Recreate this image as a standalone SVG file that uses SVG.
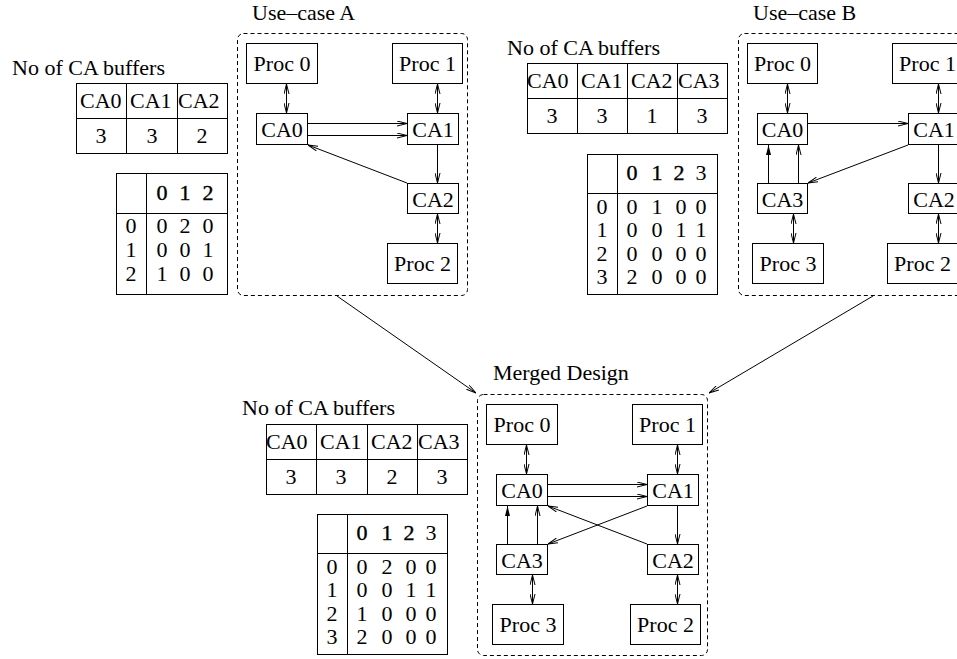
<svg xmlns="http://www.w3.org/2000/svg" width="957" height="659" viewBox="0 0 957 659" font-family="'Liberation Serif', 'DejaVu Serif', serif" font-size="22">
<style>
text{font-family:'Liberation Serif','DejaVu Serif',serif;font-size:22px;fill:#000}
.m{text-anchor:middle}
.hb{stroke:#000;stroke-width:0.4}
.box{fill:#fff;stroke:#000;stroke-width:1}
.tbl{fill:none;stroke:#000;stroke-width:1}
.grp{fill:none;stroke:#000;stroke-width:1;stroke-dasharray:4 3}
.c{fill:none;stroke:#000;stroke-width:1}
.a{marker-end:url(#ah)}
.f{marker-end:url(#ahf)}
.d{marker-start:url(#ah);marker-end:url(#ah)}
</style>
<defs>
<marker id="ah" viewBox="0 0 10 6" refX="10" refY="3" markerWidth="10" markerHeight="6" markerUnits="userSpaceOnUse" orient="auto-start-reverse">
<path d="M0,0.5 L10,3 L0,5.5" fill="none" stroke="#000" stroke-width="1"/>
</marker>
<marker id="ahf" viewBox="0 0 10 6" refX="10" refY="3" markerWidth="10" markerHeight="6" markerUnits="userSpaceOnUse" orient="auto">
<path d="M0,0.5 L10,3 L0,5.5 z" fill="#000"/>
</marker>
</defs>

<!-- Use-case A -->
<g id="usecaseA">
<text x="252" y="20">Use–case A</text>
<rect class="grp" x="237.5" y="33.5" width="230" height="262" rx="6"/>
</g>
<g id="A-proc0"><rect class="box" x="246.5" y="43.5" width="71" height="40"/><text class="m" x="282" y="71">Proc 0</text></g>
<g id="A-proc1"><rect class="box" x="392.5" y="43.5" width="70" height="40"/><text class="m" x="427.5" y="71">Proc 1</text></g>
<g id="A-ca0"><rect class="box" x="256.5" y="113.5" width="51" height="31"/><text class="m" x="282" y="137">CA0</text></g>
<g id="A-ca1"><rect class="box" x="407.5" y="113.5" width="51" height="31"/><text class="m" x="433" y="137">CA1</text></g>
<g id="A-ca2"><rect class="box" x="407.5" y="183.5" width="51" height="30"/><text class="m" x="433" y="206.5">CA2</text></g>
<g id="A-proc2"><rect class="box" x="387.5" y="243.5" width="70" height="40"/><text class="m" x="422.5" y="271">Proc 2</text></g>

<!-- Use-case B -->
<g id="usecaseB">
<text x="753" y="20">Use–case B</text>
<rect class="grp" x="738.5" y="33.5" width="230" height="262" rx="6"/>
</g>
<g id="B-proc0"><rect class="box" x="747.5" y="43.5" width="70" height="40"/><text class="m" x="782.5" y="71">Proc 0</text></g>
<g id="B-proc1"><rect class="box" x="892.5" y="43.5" width="70" height="40"/><text class="m" x="927.5" y="71">Proc 1</text></g>
<g id="B-ca0"><rect class="box" x="757.5" y="113.5" width="50" height="31"/><text class="m" x="782.5" y="137">CA0</text></g>
<g id="B-ca1"><rect class="box" x="908.5" y="113.5" width="51" height="31"/><text class="m" x="934" y="137">CA1</text></g>
<g id="B-ca3"><rect class="box" x="757.5" y="183.5" width="50" height="30"/><text class="m" x="782.5" y="206.5">CA3</text></g>
<g id="B-ca2"><rect class="box" x="908.5" y="183.5" width="51" height="30"/><text class="m" x="934" y="206.5">CA2</text></g>
<g id="B-proc3"><rect class="box" x="752.5" y="243.5" width="71" height="40"/><text class="m" x="788" y="271">Proc 3</text></g>
<g id="B-proc2"><rect class="box" x="887.5" y="243.5" width="70" height="40"/><text class="m" x="922.5" y="271">Proc 2</text></g>

<!-- Merged -->
<g id="merged">
<text x="493" y="380">Merged Design</text>
<rect class="grp" x="477.5" y="394.5" width="230" height="261" rx="6"/>
</g>
<g id="M-proc0"><rect class="box" x="486.5" y="404.5" width="71" height="40"/><text class="m" x="522" y="432">Proc 0</text></g>
<g id="M-proc1"><rect class="box" x="632.5" y="404.5" width="70" height="40"/><text class="m" x="667.5" y="432">Proc 1</text></g>
<g id="M-ca0"><rect class="box" x="496.5" y="474.5" width="51" height="31"/><text class="m" x="522" y="498">CA0</text></g>
<g id="M-ca1"><rect class="box" x="647.5" y="474.5" width="51" height="31"/><text class="m" x="673" y="498">CA1</text></g>
<g id="M-ca3"><rect class="box" x="496.5" y="544.5" width="51" height="30"/><text class="m" x="522" y="567.5">CA3</text></g>
<g id="M-ca2"><rect class="box" x="647.5" y="544.5" width="51" height="30"/><text class="m" x="673" y="567.5">CA2</text></g>
<g id="M-proc3"><rect class="box" x="492.5" y="604.5" width="71" height="40"/><text class="m" x="528" y="632">Proc 3</text></g>
<g id="M-proc2"><rect class="box" x="630.5" y="604.5" width="70" height="40"/><text class="m" x="665.5" y="632">Proc 2</text></g>

<!-- Tables A -->
<g id="A-buffers">
<text x="12" y="75">No of CA buffers</text>
<rect class="tbl" x="76.5" y="83.5" width="151" height="70"/>
<path class="tbl" d="M76.5,118.5H227.5M126.5,83.5V153.5M177.5,83.5V153.5"/>
<text x="80" y="108">CA0</text><text x="130" y="108">CA1</text><text x="178" y="108">CA2</text>
<text class="m" x="101" y="143">3</text><text class="m" x="152" y="143">3</text><text class="m" x="202" y="143">2</text>
</g>
<g id="A-matrix">
<rect class="tbl" x="116.5" y="173.5" width="111" height="121"/>
<path class="tbl" d="M116.5,213.5H227.5M146.5,173.5V294.5"/>
<text class="m hb" x="162" y="200">0</text><text class="m hb" x="185" y="200">1</text><text class="m hb" x="208" y="200">2</text>
<text class="m" x="131" y="233">0</text><text class="m" x="131" y="257">1</text><text class="m" x="131" y="281">2</text>
<text class="m" x="162" y="233">0</text><text class="m" x="185" y="233">2</text><text class="m" x="208" y="233">0</text>
<text class="m" x="162" y="257">0</text><text class="m" x="185" y="257">0</text><text class="m" x="208" y="257">1</text>
<text class="m" x="162" y="281">1</text><text class="m" x="185" y="281">0</text><text class="m" x="208" y="281">0</text>
</g>

<!-- Tables B -->
<g id="B-buffers">
<text x="507" y="55">No of CA buffers</text>
<rect class="tbl" x="527.5" y="63.5" width="200" height="70"/>
<path class="tbl" d="M527.5,98.5H727.5M577.5,63.5V133.5M627.5,63.5V133.5M677.5,63.5V133.5"/>
<text x="527" y="88">CA0</text><text x="581" y="88">CA1</text><text x="631" y="88">CA2</text><text x="678" y="88">CA3</text>
<text class="m" x="552" y="123">3</text><text class="m" x="602" y="123">3</text><text class="m" x="652" y="123">1</text><text class="m" x="702" y="123">3</text>
</g>
<g id="B-matrix">
<rect class="tbl" x="587.5" y="154.5" width="130" height="140"/>
<path class="tbl" d="M587.5,193.5H717.5M617.5,154.5V294.5"/>
<text class="m hb" x="632" y="180">0</text><text class="m hb" x="657" y="180">1</text><text class="m hb" x="679" y="180">2</text><text class="m" x="701" y="180">3</text>
<text class="m" x="602" y="214">0</text><text class="m" x="602" y="237">1</text><text class="m" x="602" y="261">2</text><text class="m" x="602" y="284">3</text>
<text class="m" x="632" y="214">0</text><text class="m" x="657" y="214">1</text><text class="m" x="681" y="214">0</text><text class="m" x="701" y="214">0</text>
<text class="m" x="632" y="237">0</text><text class="m" x="657" y="237">0</text><text class="m" x="681" y="237">1</text><text class="m" x="701" y="237">1</text>
<text class="m" x="632" y="261">0</text><text class="m" x="657" y="261">0</text><text class="m" x="681" y="261">0</text><text class="m" x="701" y="261">0</text>
<text class="m" x="632" y="284">2</text><text class="m" x="657" y="284">0</text><text class="m" x="681" y="284">0</text><text class="m" x="701" y="284">0</text>
</g>

<!-- Tables merged -->
<g id="M-buffers">
<text x="242" y="415">No of CA buffers</text>
<rect class="tbl" x="266.5" y="424.5" width="201" height="70"/>
<path class="tbl" d="M266.5,459.5H467.5M316.5,424.5V494.5M367.5,424.5V494.5M417.5,424.5V494.5"/>
<text x="266" y="449">CA0</text><text x="320" y="449">CA1</text><text x="371" y="449">CA2</text><text x="418" y="449">CA3</text>
<text class="m" x="291" y="484">3</text><text class="m" x="341" y="484">3</text><text class="m" x="392" y="484">2</text><text class="m" x="442" y="484">3</text>
</g>
<g id="M-matrix">
<rect class="tbl" x="317.5" y="514.5" width="130" height="140"/>
<path class="tbl" d="M317.5,553.5H447.5M347.5,514.5V654.5"/>
<text class="m hb" x="362" y="540">0</text><text class="m hb" x="387" y="540">1</text><text class="m hb" x="409" y="540">2</text><text class="m" x="431" y="540">3</text>
<text class="m" x="332" y="574">0</text><text class="m" x="332" y="597">1</text><text class="m" x="332" y="621">2</text><text class="m" x="332" y="644">3</text>
<text class="m" x="362" y="574">0</text><text class="m" x="387" y="574">2</text><text class="m" x="411" y="574">0</text><text class="m" x="431" y="574">0</text>
<text class="m" x="362" y="597">0</text><text class="m" x="387" y="597">0</text><text class="m" x="411" y="597">1</text><text class="m" x="431" y="597">1</text>
<text class="m" x="362" y="621">1</text><text class="m" x="387" y="621">0</text><text class="m" x="411" y="621">0</text><text class="m" x="431" y="621">0</text>
<text class="m" x="362" y="644">2</text><text class="m" x="387" y="644">0</text><text class="m" x="411" y="644">0</text><text class="m" x="431" y="644">0</text>
</g>

<!-- Connectors -->
<g id="connectors">
<line class="c d" x1="286.5" y1="84" x2="286.5" y2="113"/>
<line class="c d" x1="437.5" y1="84" x2="437.5" y2="113"/>
<line class="c a" x1="308" y1="123.5" x2="407" y2="123.5"/>
<line class="c a" x1="308" y1="135.5" x2="407" y2="135.5"/>
<line class="c a" x1="437.5" y1="145" x2="437.5" y2="183"/>
<line class="c a" x1="407" y1="183" x2="308" y2="145"/>
<line class="c d" x1="437.5" y1="214" x2="437.5" y2="243"/>
<line class="c d" x1="787.5" y1="84" x2="787.5" y2="113"/>
<line class="c d" x1="938.5" y1="84" x2="938.5" y2="113"/>
<line class="c a" x1="808" y1="123.5" x2="908" y2="123.5"/>
<line class="c a" x1="908" y1="145" x2="808" y2="183"/>
<line class="c a" x1="938.5" y1="145" x2="938.5" y2="183"/>
<line class="c f" x1="768.5" y1="183" x2="768.5" y2="145"/>
<line class="c a" x1="798.5" y1="183" x2="798.5" y2="145"/>
<line class="c d" x1="793.5" y1="214" x2="793.5" y2="243"/>
<line class="c d" x1="938.5" y1="214" x2="938.5" y2="243"/>
<line class="c d" x1="526.5" y1="445" x2="526.5" y2="474"/>
<line class="c d" x1="677.5" y1="445" x2="677.5" y2="474"/>
<line class="c a" x1="548" y1="484.5" x2="647" y2="484.5"/>
<line class="c a" x1="548" y1="496.5" x2="647" y2="496.5"/>
<line class="c a" x1="677.5" y1="506" x2="677.5" y2="544"/>
<line class="c a" x1="647" y1="544" x2="548" y2="506"/>
<line class="c a" x1="647" y1="506" x2="548" y2="544"/>
<line class="c f" x1="507.5" y1="544" x2="507.5" y2="506"/>
<line class="c a" x1="537.5" y1="544" x2="537.5" y2="506"/>
<line class="c d" x1="532.5" y1="575" x2="532.5" y2="604"/>
<line class="c d" x1="677.5" y1="575" x2="677.5" y2="604"/>
<line class="c a" x1="337" y1="296" x2="476" y2="393"/>
<line class="c a" x1="873" y1="296" x2="709" y2="393"/>
</g>
</svg>
